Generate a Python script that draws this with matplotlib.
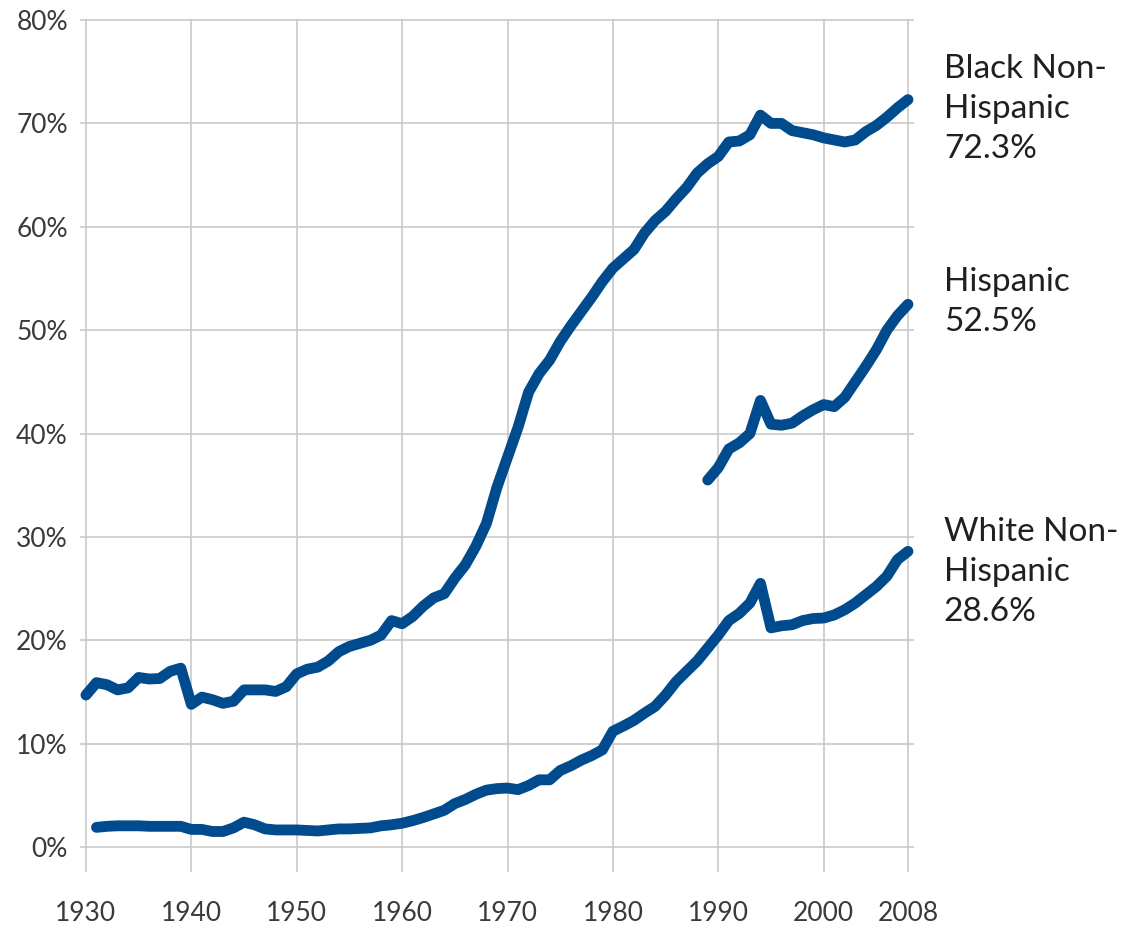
import matplotlib
matplotlib.use("Agg")
import matplotlib.pyplot as plt
from matplotlib.ticker import FuncFormatter

plt.rcParams['font.family'] = ['Lato', 'DejaVu Sans']

# share of births (%) by year
black_years = list(range(1930, 2009))
black_vals = [
    14.7, 15.9, 15.7, 15.2, 15.4, 16.4, 16.25, 16.3, 17.0, 17.3,   # 1930s
    13.8, 14.5, 14.25, 13.9, 14.1, 15.2, 15.2, 15.2, 15.05, 15.5,  # 1940s
    16.75, 17.2, 17.4, 18.0, 18.9, 19.4, 19.7, 20.0, 20.5, 21.9,   # 1950s
    21.6, 22.3, 23.3, 24.1, 24.5, 26.0, 27.3, 29.1, 31.3, 34.8,    # 1960s
    37.7, 40.6, 44.0, 45.8, 47.1, 48.9, 50.4, 51.8, 53.2, 54.7,    # 1970s
    56.0, 56.9, 57.8, 59.4, 60.6, 61.5, 62.7, 63.8, 65.2, 66.1,    # 1980s
    66.8, 68.2, 68.3, 68.9, 70.8, 70.0, 70.0, 69.3, 69.1, 68.9,    # 1990s
    68.6, 68.4, 68.2, 68.4, 69.2, 69.8, 70.6, 71.5, 72.3,          # 2000-2008
]

hisp_years = list(range(1989, 2009))
hisp_vals = [
    35.5, 36.7, 38.5, 39.1, 40.0, 43.2, 40.9, 40.8, 41.0, 41.7, 42.3,
    42.8, 42.6, 43.5, 45.0, 46.5, 48.1, 50.0, 51.4, 52.5,
]

white_years = list(range(1931, 2009))
white_vals = [
    1.9, 2.0, 2.05, 2.05, 2.05, 2.0, 2.0, 2.0, 2.0,                # 1931-39
    1.7, 1.7, 1.5, 1.5, 1.85, 2.4, 2.15, 1.75, 1.65, 1.65,         # 1940s
    1.65, 1.6, 1.55, 1.65, 1.75, 1.75, 1.8, 1.85, 2.05, 2.15,      # 1950s
    2.3, 2.55, 2.85, 3.2, 3.55, 4.2, 4.6, 5.1, 5.5, 5.65,          # 1960s
    5.7, 5.55, 5.95, 6.5, 6.5, 7.4, 7.85, 8.4, 8.85, 9.4,          # 1970s
    11.2, 11.7, 12.25, 12.95, 13.6, 14.7, 16.0, 17.0, 18.0, 19.25, # 1980s
    20.5, 21.9, 22.6, 23.6, 25.5, 21.2, 21.4, 21.5, 21.9, 22.1,    # 1990s
    22.15, 22.45, 22.95, 23.6, 24.4, 25.2, 26.2, 27.8, 28.6,       # 2000-2008
]

labels = ["Black Non-\nHispanic\n72.3%", "Hispanic\n52.5%", "White Non-\nHispanic\n28.6%"]
label_tops = [76.7, 56.1, 31.9]

x_ticks = [1930, 1940, 1950, 1960, 1970, 1980, 1990, 2000, 2008]
y_ticks = [0, 10, 20, 30, 40, 50, 60, 70, 80]

line_color = '#004b8d'
grid_color = '#c9c9c9'

fig = plt.figure(figsize=(11.25, 9.27), dpi=100)
ax = fig.add_axes([0.0764, 0.0863, 0.7307, 0.8921])

for yrs, vals in [(black_years, black_vals), (hisp_years, hisp_vals), (white_years, white_vals)]:
    ax.plot(yrs, vals, color=line_color, lw=7.8, solid_capstyle='round',
            solid_joinstyle='round', clip_on=False, zorder=3)

ax.set_xlim(1930, 2008)
ax.set_ylim(0, 80)
ax.set_xticks(x_ticks)
ax.set_yticks(y_ticks)
ax.yaxis.set_major_formatter(FuncFormatter(lambda v, p: f"{v:.0f}%"))

for s in ax.spines.values():
    s.set_visible(False)

ax.grid(True, color=grid_color, lw=1.2, zorder=0)
for gl in ax.get_xgridlines() + ax.get_ygridlines():
    gl.set_clip_on(False)

ax.tick_params(axis='x', length=18, width=1.2, color=grid_color, pad=21,
               labelsize=19, labelcolor='#3a3a3a')
ax.tick_params(axis='y', length=4, width=1.2, color=grid_color, pad=9,
               labelsize=19, labelcolor='#3a3a3a', right=True)

for txt, top in zip(labels, label_tops):
    ax.text(2011.4, top, txt, fontsize=24, color='#231f20', va='top', ha='left',
            linespacing=1.42, clip_on=False)

fig.savefig('out.png', dpi=100)
